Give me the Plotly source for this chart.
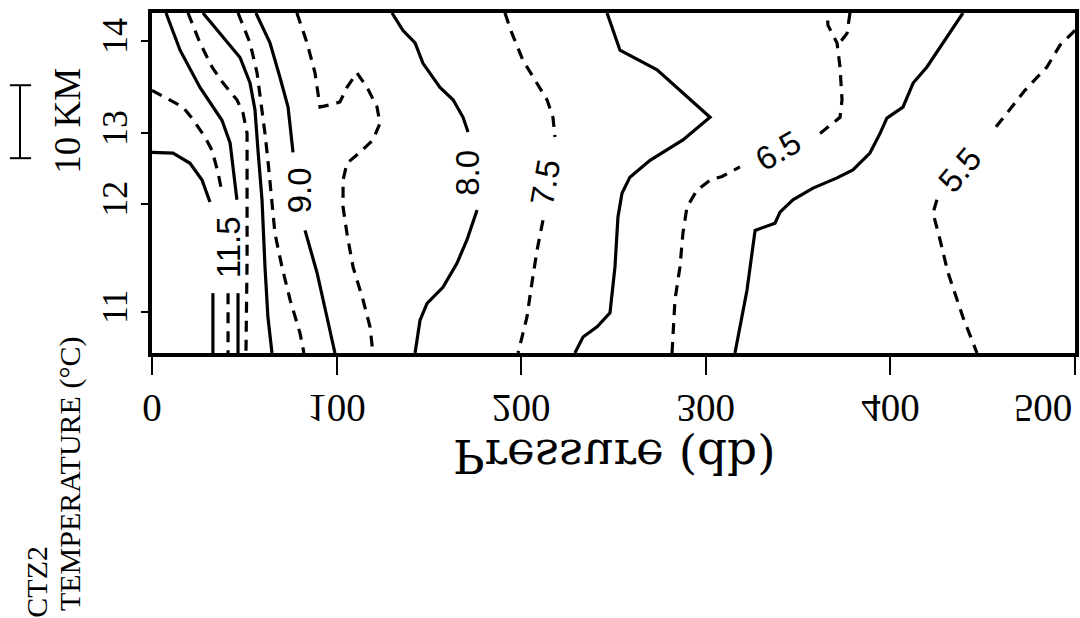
import plotly.graph_objects as go

# pressure (db) and along-track distance (km); None = gap for a label
t120_p = [0, 11.4, 20.6, 27.1, 31.4, None, 33.0, 33.0]
t120_km = [27.5, 27.4, 26.0, 23.7, 20.7, None, 8.2, 0]

t115_p = [0, 16.8, 22.2, 28.7, 32.5, 35.8, 37.9, None, 41.2, 41.2]
t115_km = [36.0, 33.7, 32.0, 29.6, 27.8, 24.7, 22.0, None, 8.2, 0]

t110_p = [7.6, 15.2, 26.0, 37.9, 42.3, 45.0, 46.0, None, 46.6, 46.6]
t110_km = [46.6, 41.5, 36.4, 31.9, 28.8, 22.7, 21.0, None, 8.2, 0]

t105_p = [19.5, 26.0, 32.5, 38.5, 46.0, 49.3, 51.5, 51.5, 51.5, 51.5, 50.9]
t105_km = [46.6, 42.5, 39.2, 37.0, 34.7, 32.9, 30.1, 26.4, 21.0, 12.7, 0]

t100_p = [27.6, 38.5, 47.7, 53.1, 55.8, 57.4, 59.6, 61.2, 62.8, 65.0]
t100_km = [46.6, 43.3, 40.5, 37.0, 33.3, 27.8, 21.0, 11.8, 4.9, 0]

t95_p = [46.6, 53.1, 56.9, 59.6, 61.2, 62.8, 65.0, 66.6, 70.4, 74.8, 80.2, 82.3]
t95_km = [46.6, 42.5, 38.4, 33.3, 30.1, 26.4, 21.0, 16.4, 11.8, 7.3, 2.7, 0]

t90_p = [56.3, 63.9, 69.3, 73.7, 76.4, None, 82.9, 89.4, 94.8, 99.1]
t90_km = [46.6, 42.5, 37.8, 33.7, 27.5, None, 16.8, 11.0, 4.9, 0]

t85_p = [78.5, 84.0, 88.3, 91.0, 98.0, 101.8, 105.6, 111.0, 116.5, 121.9, 123.5,
         119.7, 112.7, 105.6, 103.5, 103.5, 105.6, 108.9, 114.3, 118.1, 119.7]
t85_km = [46.6, 42.5, 38.4, 33.7, 34.1, 34.4, 36.4, 38.4, 36.4, 33.7, 31.5,
          29.2, 27.5, 26.0, 23.7, 20.0, 16.4, 11.8, 7.3, 3.6, 0]

t80_p = [130.0, 136.0, 142.5, 146.8, 156.0, 163.1, 168.5, 171.2, None,
         176.1, 170.6, 165.2, 157.6, 149.0, 145.2, 142.5]
t80_km = [46.6, 44.2, 42.5, 39.7, 36.4, 34.7, 32.3, 30.3, None,
          19.6, 15.5, 12.3, 9.0, 6.8, 4.5, 0]

t75_p = [191.2, 195.0, 201.0, 208.6, 214.0, 217.2, 218.3, None,
         211.8, 208.6, 205.8, 203.1, 198.3]
t75_km = [46.6, 43.8, 40.1, 37.0, 34.7, 32.3, 29.6, None,
          18.2, 14.1, 9.6, 4.9, 0]

t70_p = [246.5, 253.5, 273.6, 287.6, 302.3, 287.6, 269.8, 258.9, 254.6, 252.4,
         250.8, 248.1, 241.1, 233.5, 229.1]
t70_km = [46.6, 41.5, 38.8, 35.6, 32.3, 29.2, 26.4, 24.1, 21.9, 18.6,
          11.8, 5.5, 3.6, 2.2, 0]

t65_p = [281.7, 283.3, 286.0, 287.6, 289.8, 295.2, 302.3, 308.8, 318.5, None,
         361.9, 372.7, 373.8, 372.7, 371.1, 366.2, 365.7, None, 378.1, 376.5, 371.6]
t65_km = [0, 7.3, 11.8, 16.4, 20.0, 22.3, 23.7, 24.2, 25.5, None,
          30.1, 32.3, 34.7, 39.2, 42.5, 44.9, 46.6, None, 46.6, 43.8, 42.2]

t60_p = [439.3, 430.7, 419.8, 412.3, 406.8, 398.1, 394.4, 388.9, 379.7, 371.1,
         358.1, 347.2, 340.2, 337.5, 326.7, 322.3, 315.8]
t60_km = [46.6, 43.3, 39.2, 37.0, 33.7, 32.2, 30.1, 27.4, 25.1, 24.0,
          22.6, 21.0, 19.3, 17.8, 16.8, 8.6, 0]

t55_p = [500, 491.9, 484.8, 472.9, 461.0, 455.6, None,
         425.2, 423.1, 426.9, 431.2, 439.3, 446.9]
t55_km = [44.2, 42.2, 39.2, 36.0, 32.2, 30.5, None,
          21.0, 19.2, 15.5, 11.0, 4.9, 0]

# contour labels
label_text = ["11.5", "9.0", "8.0", "7.5", "6.5", "5.5"]
label_p = [41.2, 79.6, 171.2, 212.9, 339.1, 437.7]
label_km = [14.5, 22.3, 24.7, 23.4, 27.8, 25.1]
label_angle = [-90, -90, -90, -80, -30, -50]

# stations along the track
station_km = [5.6, 20.4, 30.1, 42.7]
station_names = ["11", "12", "13", "14"]

pressure_ticks = [0, 100, 200, 300, 400, 500]

contours = [
    (t120_p, t120_km, False), (t115_p, t115_km, True), (t110_p, t110_km, False),
    (t105_p, t105_km, True), (t100_p, t100_km, False), (t95_p, t95_km, True),
    (t90_p, t90_km, False), (t85_p, t85_km, True), (t80_p, t80_km, False),
    (t75_p, t75_km, True), (t70_p, t70_km, False), (t65_p, t65_km, True),
    (t60_p, t60_km, False), (t55_p, t55_km, True),
]

fig = go.Figure()
for p, km, dashed in contours:
    fig.add_trace(go.Scatter(
        x=p, y=km, mode="lines", connectgaps=False, hoverinfo="skip",
        line=dict(color="black", width=3.2, dash="11px,8px" if dashed else "solid"),
    ))

serif = "Liberation Serif"
annotations = []
for txt, p, km, ang in zip(label_text, label_p, label_km, label_angle):
    annotations.append(dict(
        x=p, y=km, xref="x", yref="y", text=txt, showarrow=False, textangle=ang,
        xanchor="center", yanchor="middle",
        font=dict(family="Liberation Sans", size=33, color="black"),
    ))


def side_text(txt, x, y, size, angle):
    return dict(text=txt, x=x, y=y, xref="paper", yref="paper", showarrow=False,
                textangle=angle, xanchor="center", yanchor="middle",
                font=dict(family=serif, size=size, color="black"))


annotations += [
    dict(text="Pressure (db)", x=0.5005, y=-0.305, xref="paper", yref="paper",
         showarrow=False, xanchor="center", yanchor="middle",
         font=dict(family="DejaVu Serif", size=47, color="black")),
    side_text("TEMPERATURE (°C)", -0.0888, -0.356, 30, -90),
    side_text("CTZ2", -0.1255, -0.672, 30, -90),
    side_text("10 KM", -0.0925, 0.682, 37, -90),
]

# 10 km scale bar
bar_lo, bar_hi = 26.7, 36.7
shapes = [
    dict(type="line", xref="paper", yref="y", x0=-0.143, x1=-0.143, y0=bar_lo, y1=bar_hi,
         line=dict(color="black", width=2)),
    dict(type="line", xref="paper", yref="y", x0=-0.154, x1=-0.131, y0=bar_lo, y1=bar_lo,
         line=dict(color="black", width=2)),
    dict(type="line", xref="paper", yref="y", x0=-0.154, x1=-0.131, y0=bar_hi, y1=bar_hi,
         line=dict(color="black", width=2)),
]

fig.update_layout(
    width=1080, height=618,
    margin=dict(l=152, r=5, t=13, b=265, autoexpand=False),
    paper_bgcolor="white", plot_bgcolor="white",
    showlegend=False,
    annotations=annotations,
    shapes=shapes,
    xaxis=dict(
        range=[0, 500], tickvals=pressure_ticks, ticktext=[str(v) for v in pressure_ticks],
        showgrid=False, zeroline=False, showline=True, linecolor="black", linewidth=3.5,
        mirror=True, ticks="outside", ticklen=18, tickwidth=2, tickcolor="black",
        ticklabeloverflow="allow", automargin=False,
        tickfont=dict(family=serif, size=39, color="black"),
    ),
    yaxis=dict(
        range=[0, 46.6], tickvals=station_km, ticktext=station_names, tickangle=-90,
        showgrid=False, zeroline=False, showline=True, linecolor="black", linewidth=3.5,
        mirror=True, ticks="outside", ticklen=7, tickwidth=1.5, tickcolor="black",
        automargin=False,
        tickfont=dict(family=serif, size=36, color="black"),
    ),
)

# the scan prints the pressure labels mirrored top-to-bottom
flip_js = """
document.body.style.margin = '0';
document.body.style.overflow = 'hidden';
var gd = document.getElementById('{plot_id}');
function flip(el, dx) {
  var b = el.getBBox();
  var cy = b.y + b.height / 2;
  var t = el.getAttribute('transform') || '';
  el.setAttribute('transform', 'translate(' + dx + ',0) ' + t +
    ' translate(0,' + cy + ') scale(1,-1) translate(0,' + (-cy) + ')');
}
gd.querySelectorAll('.xtick text').forEach(function (el) {
  flip(el, el.textContent === '500' ? -32 : 0);
});
gd.querySelectorAll('.annotation-text').forEach(function (el) {
  if (el.textContent.indexOf('Pressure') === 0) flip(el, 0);
});
"""

fig.write_html("out.html", post_script=flip_js, config={"displayModeBar": False})
